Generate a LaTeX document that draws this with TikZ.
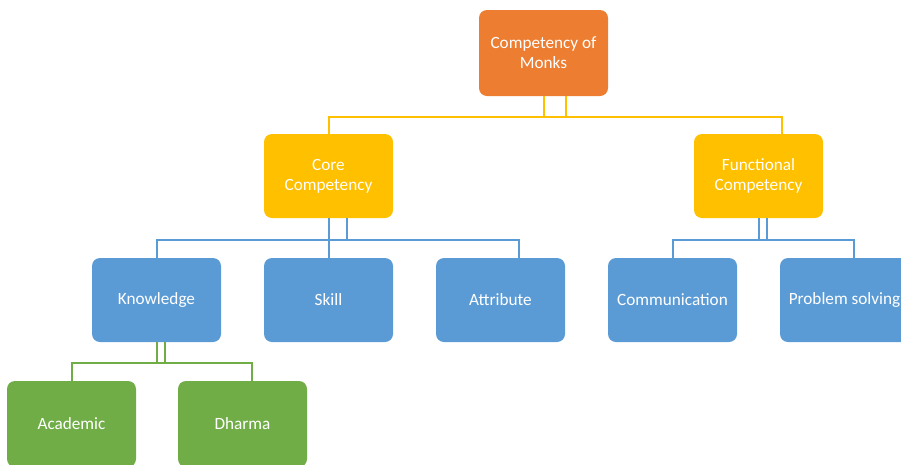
\documentclass[tikz,border=0pt]{standalone}
\usepackage{fontspec}
\setmainfont{Carlito}
\usetikzlibrary{calc}
\definecolor{corange}{HTML}{ED7D31}
\definecolor{cgold}{HTML}{FFC000}
\definecolor{cblue}{HTML}{5B9BD5}
\definecolor{cgreen}{HTML}{70AD47}
\tikzset{
  box/.style={rectangle, rounded corners=8pt, minimum width=129pt, minimum height=85pt,
    inner sep=2pt, text=white, align=center,
    font=\fontsize{17.2}{20}\selectfont},
  conn/.style={draw=#1, line width=2pt},
}
\begin{document}
\begin{tikzpicture}[x=1pt,y=-1pt]
\useasboundingbox (0,0) rectangle (901,464);
\clip (0,0) rectangle (901,464);
% nodes
\node[box, fill=corange, minimum height=86pt] (top) at (543.5,53) {Competency of\\Monks};
\node[box, fill=cgold, minimum height=84pt] (core) at (328.5,176) {Core\\Competency};
\node[box, fill=cgold, minimum height=84pt] (func) at (758.5,176) {Functional\\Competency};
\node[box, fill=cblue, minimum height=84pt] (know) at (156.5,300) {Knowledge};
\node[box, fill=cblue, minimum height=84pt] (skill) at (328.5,300) {Skill};
\node[box, fill=cblue, minimum height=84pt] (attr) at (500.5,300) {Attribute};
\node[box, fill=cblue, minimum height=84pt] (comm) at (672.5,300) {Communication};
\node[box, fill=cblue, minimum height=84pt] (prob) at (844.5,300) {Problem solving};
\node[box, fill=cgreen, minimum height=86pt] (acad) at (71.5,424) {Academic};
\node[box, fill=cgreen, minimum height=86pt] (dharma) at (242.5,424) {Dharma};
% connectors level 1
\draw[conn=cgold] ($(top.south)+(22.5,0)$) -- ++(0,20.5) -| (core.north);
\draw[conn=cgold] (top.south) -- ++(0,20.5) -| ($(func.north)+(23.5,0)$);
% level 2 core
\draw[conn=cblue] ($(core.south)+(18,0)$) -- ++(0,22) -| (know.north);
\draw[conn=cblue] (core.south) -- (skill.north);
\draw[conn=cblue] (core.south) -- ++(0,22) -| ($(attr.north)+(18.5,0)$);
% level 2 functional
\draw[conn=cblue] ($(func.south)+(8,0)$) -- ++(0,22) -| (comm.north);
\draw[conn=cblue] (func.south) -- ++(0,22) -| ($(prob.north)+(9,0)$);
% level 3
\draw[conn=cgreen] ($(know.south)+(8,0)$) -- ++(0,21) -| (acad.north);
\draw[conn=cgreen] (know.south) -- ++(0,21) -| ($(dharma.north)+(9.5,0)$);
\end{tikzpicture}
\end{document}
